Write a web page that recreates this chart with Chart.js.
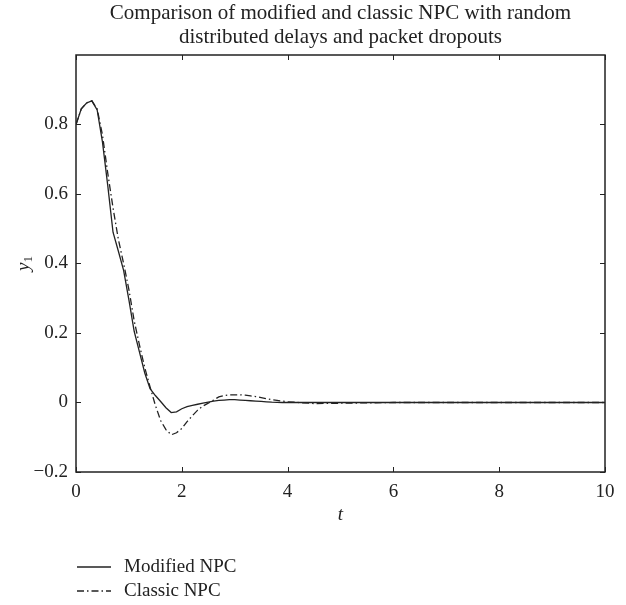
<!DOCTYPE html>
<html>
<head>
<meta charset="utf-8">
<script src="https://cdn.jsdelivr.net/npm/chart.js@4.4.0/dist/chart.umd.min.js"></script>
<style>
  html, body { margin: 0; padding: 0; background: #fff; }
  #wrap { width: 626px; height: 605px; position: relative; }
</style>
</head>
<body>
<div id="wrap"><canvas id="chart"></canvas></div>
<script>
// sample times (s) and the two responses
const timeSteps = [0, 0.1, 0.2, 0.3, 0.4, 0.5, 0.6, 0.7, 0.8, 0.9,
                   1.0, 1.1, 1.2, 1.3, 1.4, 1.5, 1.6, 1.7, 1.8, 1.9,
                   2.0, 2.1, 2.2, 2.3, 2.4, 2.5, 2.6, 2.7, 2.8, 2.9,
                   3.0, 3.1, 3.2, 3.3, 3.4, 3.5, 3.6, 3.7, 3.8, 3.9,
                   4.0, 4.5, 5, 5.5, 6, 7, 8, 9, 10];
const modifiedNpc = [0.80, 0.845, 0.862, 0.868, 0.842, 0.75, 0.625, 0.49, 0.436, 0.38,
                     0.295, 0.205, 0.145, 0.085, 0.04, 0.02, 0.003, -0.015, -0.029, -0.027,
                     -0.018, -0.012, -0.008, -0.005, -0.002, 0.001, 0.004, 0.006, 0.007, 0.008,
                     0.008, 0.007, 0.006, 0.005, 0.004, 0.003, 0.002, 0.001, 0.0005, 0,
                     0, 0, 0, 0, 0, 0, 0, 0, 0];
const classicNpc = [0.80, 0.845, 0.862, 0.868, 0.845, 0.77, 0.66, 0.56, 0.47, 0.40,
                    0.325, 0.235, 0.165, 0.10, 0.045, -0.008, -0.052, -0.078, -0.093, -0.087,
                    -0.075, -0.055, -0.038, -0.022, -0.01, -0.002, 0.007, 0.016, 0.02, 0.022,
                    0.022, 0.022, 0.021, 0.019, 0.017, 0.014, 0.011, 0.008, 0.006, 0.004,
                    0.002, -0.003, -0.002, -0.001, 0, 0, 0, 0, 0];
const seriesNames = ['Modified NPC', 'Classic NPC'];
const xTicks = [0, 2, 4, 6, 8, 10];
const yTicks = [-0.2, 0, 0.2, 0.4, 0.6, 0.8];
const titleLines = ['Comparison of modified and classic NPC with random',
                    'distributed delays and packet dropouts'];

const SERIF = '"Liberation Serif", "DejaVu Serif", serif';
const INK = '#222';

function toPoints(values) {
    return timeSteps.map((t, i) => ({ x: t, y: values[i] }));
}

// frame, inward ticks, titles and legend drawn by hand
const framePlugin = {
    id: 'frame',
    afterDraw(chart) {
        const ctx = chart.ctx;
        const a = chart.chartArea;
        const xs = chart.scales.x;
        const ys = chart.scales.y;
        ctx.save();
        ctx.strokeStyle = INK;
        ctx.lineWidth = 1.5;
        ctx.strokeRect(a.left, a.top, a.right - a.left, a.bottom - a.top);

        ctx.lineWidth = 1;
        ctx.beginPath();
        xTicks.forEach(v => {
            const px = Math.round(xs.getPixelForValue(v)) + 0.5;
            ctx.moveTo(px, a.bottom); ctx.lineTo(px, a.bottom - 5);
            ctx.moveTo(px, a.top); ctx.lineTo(px, a.top + 5);
        });
        yTicks.forEach(v => {
            const py = Math.round(ys.getPixelForValue(v)) + 0.5;
            ctx.moveTo(a.left, py); ctx.lineTo(a.left + 5, py);
            ctx.moveTo(a.right, py); ctx.lineTo(a.right - 5, py);
        });
        ctx.stroke();

        ctx.fillStyle = INK;
        ctx.textAlign = 'center';
        ctx.textBaseline = 'middle';
        ctx.font = '21px ' + SERIF;
        const cx = (a.left + a.right) / 2;
        ctx.fillText(titleLines[0], cx, 13);
        ctx.fillText(titleLines[1], cx, 37);

        // x axis title
        ctx.font = 'italic 19px ' + SERIF;
        ctx.fillText('t', cx, 515);

        // y axis title: italic y with subscript 1
        ctx.save();
        ctx.translate(24, (a.top + a.bottom) / 2);
        ctx.rotate(-Math.PI / 2);
        ctx.font = 'italic 19px ' + SERIF;
        const wy = ctx.measureText('y').width;
        ctx.font = '13px ' + SERIF;
        const w1 = ctx.measureText('1').width;
        const x0 = -(wy + w1) / 2;
        ctx.textAlign = 'left';
        ctx.font = 'italic 19px ' + SERIF;
        ctx.fillText('y', x0, 0);
        ctx.font = '13px ' + SERIF;
        ctx.fillText('1', x0 + wy, 5);
        ctx.restore();

        // legend
        chart.data.datasets.forEach((ds, i) => {
            const ly = 567 + i * 24;
            ctx.beginPath();
            ctx.lineWidth = ds.borderWidth;
            ctx.setLineDash(ds.borderDash || []);
            ctx.moveTo(77, ly); ctx.lineTo(111, ly);
            ctx.stroke();
            ctx.setLineDash([]);
            ctx.textAlign = 'left';
            ctx.font = '19px ' + SERIF;
            ctx.fillText(ds.label, 124, ly);
        });
        ctx.restore();
    }
};

document.addEventListener('DOMContentLoaded', function() {
    const ctx = document.getElementById('chart').getContext('2d');
    new Chart(ctx, {
        type: 'line',
        data: {
            datasets: [{
                label: seriesNames[0],
                data: toPoints(modifiedNpc),
                borderColor: INK,
                borderWidth: 1.3,
                pointRadius: 0,
                tension: 0
            }, {
                label: seriesNames[1],
                data: toPoints(classicNpc),
                borderColor: INK,
                borderWidth: 1.3,
                borderDash: [7, 3, 1.5, 3],
                pointRadius: 0,
                tension: 0
            }]
        },
        plugins: [framePlugin],
        options: {
            responsive: true,
            maintainAspectRatio: false,
            animation: false,
            layout: { padding: { top: 55, left: 0, right: 21, bottom: 88 } },
            plugins: {
                legend: { display: false },
                tooltip: { enabled: false }
            },
            scales: {
                x: {
                    type: 'linear',
                    min: 0,
                    max: 10,
                    afterBuildTicks: scale => { scale.ticks = xTicks.map(v => ({ value: v })); },
                    afterFit: scale => { scale.height = 45; },
                    grid: { display: false, drawTicks: false },
                    border: { display: false },
                    ticks: {
                        color: INK,
                        padding: 9,
                        maxRotation: 0,
                        font: { family: SERIF, size: 19 },
                        callback: v => String(v)
                    }
                },
                y: {
                    min: -0.2,
                    max: 1.0,
                    afterBuildTicks: scale => { scale.ticks = yTicks.map(v => ({ value: v })); },
                    afterFit: scale => { scale.width = 76; },
                    grid: { display: false, drawTicks: false },
                    border: { display: false },
                    ticks: {
                        color: INK,
                        padding: 8,
                        font: { family: SERIF, size: 19 },
                        callback: v => (v < 0 ? '\u2212' + Math.abs(v).toFixed(1) : (v === 0 ? '0' : v.toFixed(1)))
                    }
                }
            }
        }
    });
});
</script>
</body>
</html>
